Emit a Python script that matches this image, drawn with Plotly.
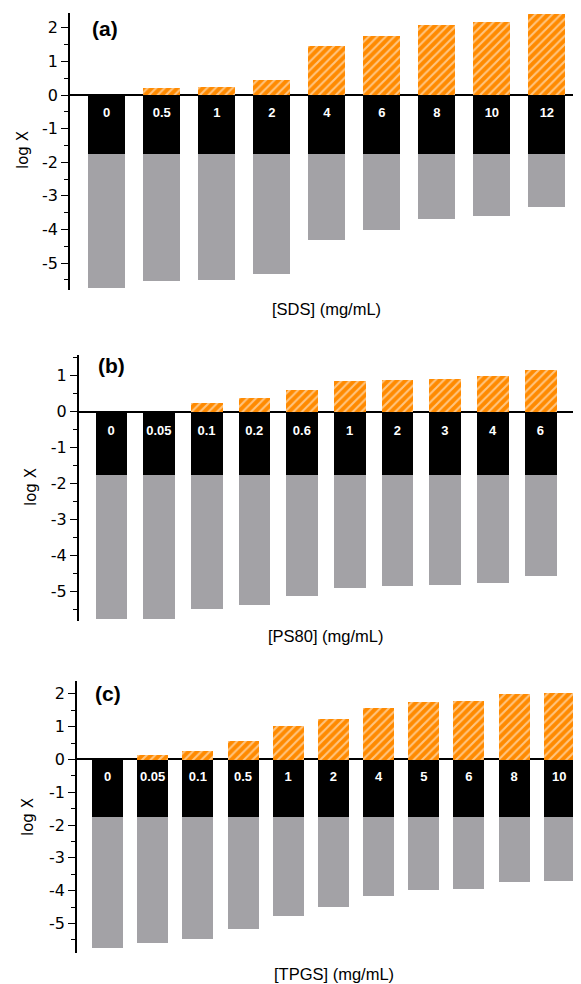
import plotly.graph_objects as go

# ---------------- data ----------------
black_level = -1.75

sds_conc = ["0", "0.5", "1", "2", "4", "6", "8", "10", "12"]
sds_top = [0, 0.21, 0.24, 0.45, 1.46, 1.76, 2.08, 2.17, 2.41]
sds_bottom = [-5.73, -5.54, -5.51, -5.33, -4.32, -4.02, -3.69, -3.60, -3.33]

ps80_conc = ["0", "0.05", "0.1", "0.2", "0.6", "1", "2", "3", "4", "6"]
ps80_top = [0, 0, 0.25, 0.38, 0.60, 0.85, 0.88, 0.91, 0.99, 1.16]
ps80_bottom = [-5.75, -5.75, -5.47, -5.36, -5.12, -4.89, -4.84, -4.81, -4.75, -4.56]

tpgs_conc = ["0", "0.05", "0.1", "0.5", "1", "2", "4", "5", "6", "8", "10"]
tpgs_top = [0, 0.13, 0.28, 0.56, 1.02, 1.23, 1.59, 1.75, 1.78, 1.99, 2.02]
tpgs_bottom = [-5.74, -5.60, -5.47, -5.16, -4.75, -4.49, -4.14, -3.98, -3.95, -3.73, -3.70]

panels = [
    dict(conc=sds_conc, top=sds_top, bottom=sds_bottom, letter="(a)",
         xtitle="[SDS] (mg/mL)"),
    dict(conc=ps80_conc, top=ps80_top, bottom=ps80_bottom, letter="(b)",
         xtitle="[PS80] (mg/mL)"),
    dict(conc=tpgs_conc, top=tpgs_top, bottom=tpgs_bottom, letter="(c)",
         xtitle="[TPGS] (mg/mL)"),
]

# ---------------- layout geometry ----------------
OFF = 8                      # page body margin
W, H = 581 - OFF, 984 - OFF  # figure size
ORANGE = "#FF8A00"
GRAY = "#A3A2A6"


def px(x):
    return (x - OFF) / W


def py(y):
    return 1 - (y - OFF) / H


geo = [
    dict(xl=70, xr=581, yt=13, yb=290, xr_=[-0.667, 8.62], yr=[-5.80, 2.44], w=0.67,
         title_y=309, title_x=326, ylab_x=23, ylab_y=150, letter_xy=(105, 29)),
    dict(xl=78.7, xr=573.3, yt=355, yb=621, xr_=[-0.68, 9.69], yr=[-5.81, 1.575], w=0.665,
         title_y=636, title_x=326, ylab_x=31, ylab_y=487, letter_xy=(111, 365)),
    dict(xl=77, xr=581, yt=680.7, yb=953.3, xr_=[-0.675, 10.48], yr=[-5.91, 2.40], w=0.686,
         title_y=974, title_x=334, ylab_x=28, ylab_y=817, letter_xy=(108, 693)),
]

fig = go.Figure()
annotations = []

for k, (p, g) in enumerate(zip(panels, geo)):
    sfx = "" if k == 0 else str(k + 1)
    xa, ya = "x" + sfx, "y" + sfx
    n = len(p["conc"])
    blacks = [black_level] * n
    grays = [b - black_level for b in p["bottom"]]

    fig.add_trace(go.Bar(x=p["conc"], y=blacks, marker_color="black", width=g["w"],
                         marker_line_width=0, xaxis=xa, yaxis=ya, showlegend=False))
    fig.add_trace(go.Bar(x=p["conc"], y=grays, base=blacks, marker_color=GRAY,
                         width=g["w"], marker_line_width=0, xaxis=xa, yaxis=ya,
                         showlegend=False))
    fig.add_trace(go.Bar(x=p["conc"], y=p["top"], marker=dict(
        color=ORANGE, line_width=0,
        pattern=dict(shape="/", fgcolor="white", bgcolor=ORANGE, size=6, solidity=0.35)),
        width=g["w"], xaxis=xa, yaxis=ya, showlegend=False))
    # labels inside black bars
    fig.add_trace(go.Scatter(x=p["conc"], y=[-0.55] * n, mode="text", text=p["conc"],
                             textfont=dict(family="Liberation Sans", size=13, color="white"),
                             texttemplate="<b>%{text}</b>",
                             xaxis=xa, yaxis=ya, showlegend=False, hoverinfo="skip"))

    fig.update_layout(**{
        "xaxis" + sfx: dict(domain=[px(g["xl"]), min(px(g["xr"]), 1)], range=g["xr_"],
                            showticklabels=False, showline=False, ticks="",
                            showgrid=False, zeroline=False, anchor=ya, fixedrange=True),
        "yaxis" + sfx: dict(domain=[py(g["yb"]), py(g["yt"])], range=g["yr"],
                            anchor=xa, showline=True, linecolor="black", linewidth=1.5,
                            ticks="outside", ticklen=7, tickwidth=1.2, tickcolor="black",
                            tickvals=[-5, -4, -3, -2, -1, 0, 1, 2],
                            ticktext=["-5", "-4", "-3", "-2", "-1", "0", "1", "2"],
                            minor=dict(dtick=0.5, tick0=0, ticks="outside", ticklen=4,
                                       tickwidth=1, tickcolor="black"),
                            tickfont=dict(family="DejaVu Sans", size=16, color="black"),
                            showgrid=False, zeroline=True, zerolinecolor="black",
                            zerolinewidth=2, layer="above traces", fixedrange=True),
    })

    annotations.append(dict(text=p["xtitle"], x=px(g["title_x"]), y=py(g["title_y"]),
                            xref="paper", yref="paper", showarrow=False,
                            font=dict(family="Liberation Sans", size=16.5, color="black"),
                            xanchor="center", yanchor="middle"))
    annotations.append(dict(text="log X", x=px(g["ylab_x"]), y=py(g["ylab_y"]),
                            xref="paper", yref="paper", showarrow=False, textangle=-90,
                            font=dict(family="DejaVu Sans", size=15, color="black"),
                            xanchor="center", yanchor="middle"))
    annotations.append(dict(text="<b>" + p["letter"] + "</b>", x=px(g["letter_xy"][0]),
                            y=py(g["letter_xy"][1]), xref="paper", yref="paper",
                            showarrow=False,
                            font=dict(family="Liberation Sans", size=21, color="black"),
                            xanchor="center", yanchor="middle"))

fig.update_layout(width=W, height=H, margin=dict(l=0, r=0, t=0, b=0),
                  barmode="overlay", bargap=0, plot_bgcolor="white",
                  paper_bgcolor="white", annotations=annotations)

fig.write_html("out.html")
